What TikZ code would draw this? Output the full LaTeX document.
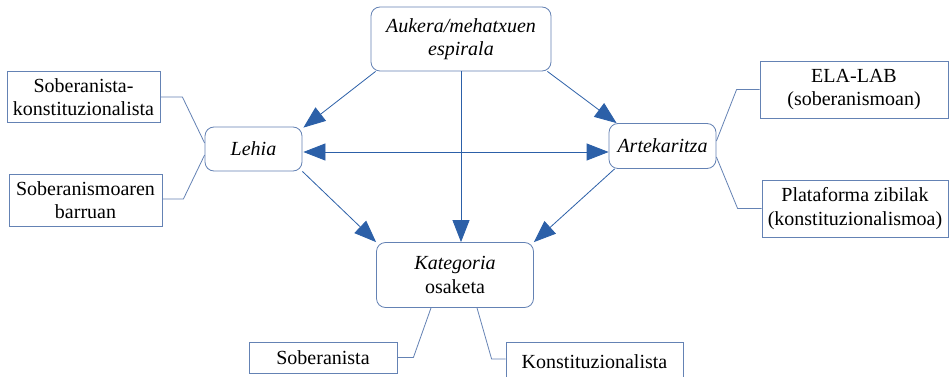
\documentclass[tikz,border=0pt]{standalone}
\usepackage{fontspec}
\setmainfont{Liberation Serif}
\usetikzlibrary{arrows.meta,calc}
\definecolor{boxline}{RGB}{100,130,180}
\definecolor{arrowblue}{RGB}{44,96,168}
\tikzset{
  base/.style={draw=boxline, line width=0.8pt, align=center, inner sep=0pt,
    font=\fontsize{20}{23.5}\selectfont},
  roundbox/.style={base, rounded corners=9pt},
  plainbox/.style={base},
  link/.style={draw=boxline, line width=0.8pt},
  arr/.style={draw=arrowblue, line width=0.8pt, -{Triangle[length=22pt,width=17pt]}, color=arrowblue},
  arrb/.style={draw=arrowblue, line width=0.8pt, {Triangle[length=22pt,width=17pt]}-{Triangle[length=22pt,width=17pt]}, color=arrowblue}
}
\begin{document}
\begin{tikzpicture}[x=1pt,y=-1pt]
\clip (0,0) rectangle (950,377);
\fill[white] (0,0) rectangle (950,377);
% main boxes
\node[roundbox, minimum width=180pt, minimum height=64pt] (auk) at (461,39) {\itshape Aukera/mehatxuen\\\itshape espirala};
\node[roundbox, minimum width=97pt, minimum height=44pt] (leh) at (253.5,149) {\itshape Lehia};
\node[roundbox, minimum width=107pt, minimum height=45pt] (art) at (662.5,146) {\itshape Artekaritza};
\node[roundbox, minimum width=157pt, minimum height=65pt] (kat) at (455,275) {\itshape Kategoria\\osaketa};
% side boxes
\node[plainbox, minimum width=153pt, minimum height=51pt] (sk) at (83.5,97) {Soberanista-\\konstituzionalista};
\node[plainbox, minimum width=153pt, minimum height=52pt] (sb) at (85.5,200) {Soberanismoaren\\barruan};
\node[plainbox, minimum width=188pt, minimum height=57pt] (ela) at (854,89.5) {ELA-LAB\\(soberanismoan)};
\node[plainbox, minimum width=186pt, minimum height=57pt] (pla) at (855,208.5) {Plataforma zibilak\\(konstituzionalismoa)};
\node[plainbox, minimum width=148pt, minimum height=31pt] (sob) at (323,357.5) {Soberanista};
\node[plainbox, minimum width=177pt, minimum height=40pt] (kon) at (594.5,362) {Konstituzionalista};
% connector lines to side boxes
\draw[link] ($(leh.west)+(0,-6)$) -- ($(sk.east)+(22,0)$) -- (sk.east);
\draw[link] ($(leh.west)+(0,6)$) -- ($(sb.east)+(21,-1)$) -- ($(sb.east)+(0,-1)$);
\draw[link] ($(art.east)+(0,-5)$) -- ($(ela.west)+(-23,0)$) -- (ela.west);
\draw[link] ($(art.east)+(0,11)$) -- ($(pla.west)+(-24,0)$) -- (pla.west);
\draw[link] ($(kat.south)+(-24,0)$) -- ($(sob.east)+(16,0)$) -- (sob.east);
\draw[link] ($(kat.south)+(22,0)$) -- ($(kon.west)+(-14,-3)$) -- ($(kon.west)+(0,-3)$);
% arrows
\draw[arr] ($(auk.south west)+(5,0)$) -- ($(leh.north east)+(1,1)$);
\draw[arr] ($(auk.south east)+(-4,0)$) -- ($(art.north west)+(8,0)$);
\draw[arr] (auk.south) -- (auk.south |- kat.north);
\draw[arr] (leh.south east) -- (kat.north west);
\draw[arr] ($(art.south west)+(6,0)$) -- (kat.north east);
\draw[arrb] ($(leh.east)+(1,3)$) -- ($(leh.east -| art.west)+(0,3)$);
\end{tikzpicture}
\end{document}
